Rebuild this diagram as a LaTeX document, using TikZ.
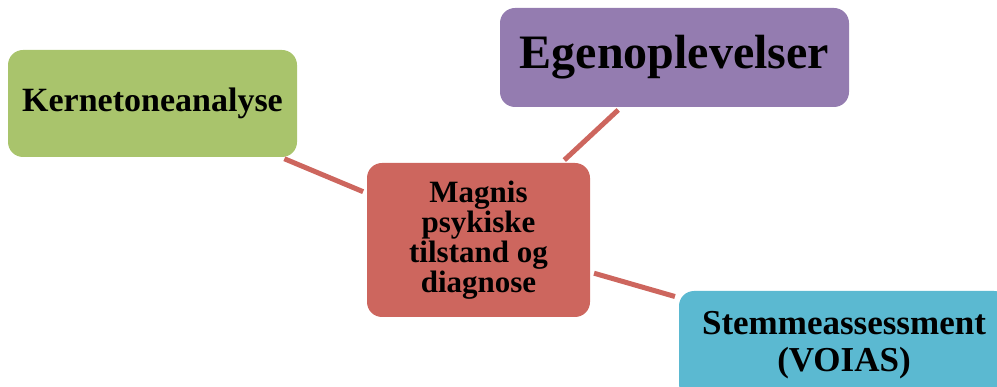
\documentclass[tikz,border=0pt]{standalone}
\usepackage{fontspec}
\setmainfont{Liberation Serif}
\usepackage{xcolor}
\usepackage{tikz}

\definecolor{greenbox}{RGB}{169,196,108}
\definecolor{purplebox}{RGB}{148,124,176}
\definecolor{redbox}{RGB}{205,102,94}
\definecolor{bluebox}{RGB}{91,185,209}

\begin{document}
\begin{tikzpicture}[x=1pt,y=-1pt,
    box/.style={rounded corners=15pt, inner sep=0pt, align=center, text=black},
    link/.style={draw=redbox, line width=5pt, shorten >=4pt, shorten <=4pt}]
        \useasboundingbox (0,0) rectangle (997,387);
        \clip (0,0) rectangle (997,387);
        % Box centres
        \path (152.5,103.5) coordinate (k) (674.5,57.5) coordinate (e)
              (478.5,240) coordinate (m) (844,345) coordinate (s);
        % Boxes
        \node[box, fill=greenbox, minimum width=289pt, minimum height=107pt,
              font=\bfseries\fontsize{34}{40}\selectfont] (kerne) at (k) {Kernetoneanalyse};
        \node[box, fill=purplebox, minimum width=349pt, minimum height=99pt,
              font=\bfseries\fontsize{48}{56}\selectfont] (egen) at (e) {Egenoplevelser};
        \node[box, fill=redbox, minimum width=223pt, minimum height=154pt,
              font=\bfseries\fontsize{31}{30}\selectfont] (magnis) at (m) {Magnis\\psykiske\\tilstand og\\diagnose};
        \node[box, fill=bluebox, minimum width=330pt, minimum height=108pt,
              font=\bfseries\fontsize{35}{37}\selectfont] (stemme) at (s) {Stemmeassessment\\(VOIAS)};
        % Links
        \draw[link] (kerne) -- (magnis);
        \draw[link] (egen) -- (magnis);
        \draw[link] (magnis) -- (stemme);
    \end{tikzpicture}
\end{document}
